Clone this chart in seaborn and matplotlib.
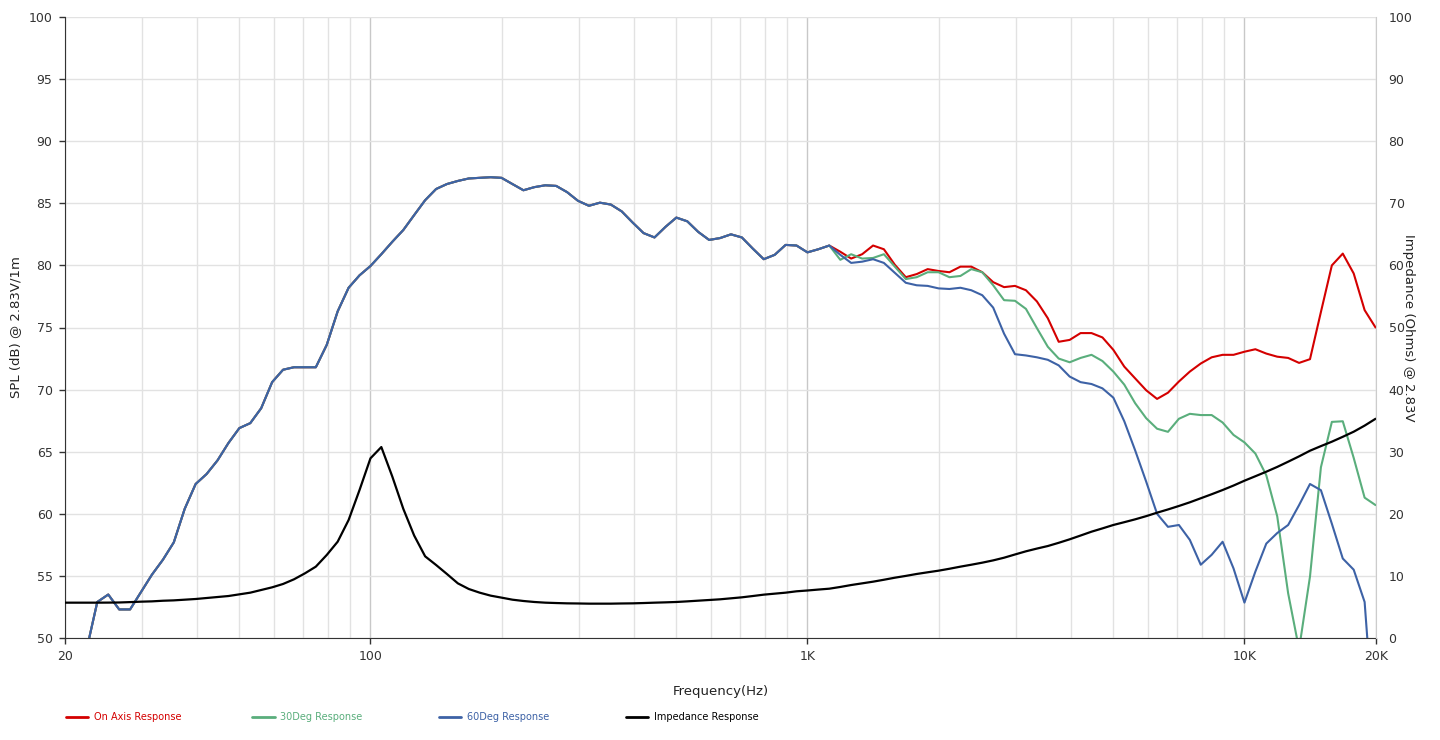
import pandas as pd
import matplotlib
matplotlib.use("Agg")
import matplotlib.pyplot as plt
from matplotlib.lines import Line2D
import seaborn as sns

# measurement grid (40 points per decade), Hz
freq_hz = [
    19.95, 21.13, 22.39, 23.71, 25.12, 26.61, 28.18, 29.85, 31.62, 33.50,
    35.48, 37.58, 39.81, 42.17, 44.67, 47.32, 50.12, 53.09, 56.23, 59.57,
    63.10, 66.83, 70.79, 74.99, 79.43, 84.14, 89.13, 94.41,
    100, 105.9, 112.2, 118.9, 125.9, 133.4, 141.3, 149.6, 158.5, 167.9,
    177.8, 188.4, 199.5, 211.3, 223.9, 237.1, 251.2, 266.1, 281.8, 298.5,
    316.2, 335.0, 354.8, 375.8, 398.1, 421.7, 446.7, 473.2, 501.2, 530.9,
    562.3, 595.7, 631.0, 668.3, 707.9, 749.9, 794.3, 841.4, 891.3, 944.1,
    1000, 1059, 1122, 1189, 1259, 1334, 1413, 1496, 1585, 1679,
    1778, 1884, 1995, 2113, 2239, 2371, 2512, 2661, 2818, 2985,
    3162, 3350, 3548, 3758, 3981, 4217, 4467, 4732, 5012, 5309,
    5623, 5957, 6310, 6683, 7079, 7499, 7943, 8414, 8913, 9441,
    10000, 10593, 11220, 11885, 12589, 13335, 14125, 14962, 15849, 16788,
    17783, 18836, 19953,
]

# 60 deg response, full range (dB)
spl_60deg = [
    46.0, 47.5, 49.0, 52.9, 53.5, 52.3, 52.3, 53.7, 55.1, 56.3,
    57.7, 60.4, 62.4, 63.2, 64.3, 65.7, 66.9, 67.3, 68.5, 70.6,
    71.6, 71.8, 71.8, 71.8, 73.6, 76.3, 78.2, 79.2,
    79.95, 80.9, 81.9, 82.85, 84.05, 85.25, 86.15, 86.55, 86.8, 87.0,
    87.05, 87.1, 87.05, 86.55, 86.05, 86.3, 86.45, 86.4, 85.9, 85.2,
    84.8, 85.05, 84.9, 84.35, 83.45, 82.6, 82.25, 83.1, 83.85, 83.55,
    82.7, 82.05, 82.2, 82.5, 82.25, 81.35, 80.5, 80.85, 81.65, 81.6,
    81.05, 81.3, 81.6, 80.85, 80.2, 80.3, 80.5, 80.2, 79.4, 78.6,
    78.4, 78.35, 78.15, 78.1, 78.2, 78.0, 77.6, 76.6, 74.5, 72.85,
    72.75, 72.6, 72.4, 71.95, 71.05, 70.6, 70.45, 70.1, 69.35, 67.45,
    65.1, 62.6, 60.0, 58.95, 59.1, 57.9, 55.9, 56.7, 57.75, 55.6,
    52.85, 55.35, 57.6, 58.45, 59.1, 60.7, 62.4, 61.9, 59.2, 56.4,
    55.5, 52.9, 41.0,
]

# on axis and 30 deg differ from 60 deg only from ~1.1K upwards
spl_on_axis_hi = [
    81.6, 81.1, 80.55, 80.9, 81.6, 81.3, 80.05, 79.05, 79.3, 79.7,
    79.55, 79.45, 79.9, 79.9, 79.45, 78.65, 78.25, 78.35, 78.0, 77.1,
    75.75, 73.85, 74.0, 74.55, 74.55, 74.2, 73.2, 71.85, 70.9, 69.95,
    69.25, 69.75, 70.65, 71.45, 72.1, 72.6, 72.8, 72.8, 73.05, 73.25,
    72.9, 72.65, 72.55, 72.15, 72.45, 76.25, 80.0, 80.95, 79.35, 76.4,
    75.0,
]
spl_30deg_hi = [
    81.6, 80.45, 80.9, 80.55, 80.6, 80.9, 79.9, 78.9, 79.05, 79.45,
    79.45, 79.05, 79.15, 79.7, 79.45, 78.4, 77.2, 77.15, 76.5, 74.95,
    73.45, 72.5, 72.2, 72.55, 72.8, 72.3, 71.45, 70.4, 68.9, 67.7,
    66.85, 66.6, 67.65, 68.05, 67.95, 67.95, 67.35, 66.35, 65.75, 64.85,
    63.1, 59.8, 53.6, 49.1, 54.95, 63.75, 67.4, 67.45, 64.5, 61.3,
    60.7,
]

impedance_ohm = [
    5.69, 5.69, 5.69, 5.69, 5.7, 5.72, 5.78, 5.85, 5.9, 6.0,
    6.06, 6.17, 6.28, 6.44, 6.6, 6.76, 7.03, 7.3, 7.73, 8.16,
    8.7, 9.45, 10.41, 11.49, 13.37, 15.51, 19.0, 23.83,
    28.93, 30.75, 26.0, 20.8, 16.5, 13.15, 11.76, 10.31, 8.8, 7.89,
    7.3, 6.82, 6.5, 6.17, 5.96, 5.8, 5.69, 5.63, 5.58, 5.56,
    5.53, 5.53, 5.53, 5.56, 5.58, 5.63, 5.69, 5.74, 5.8, 5.9,
    6.01, 6.12, 6.23, 6.39, 6.55, 6.76, 6.98, 7.14, 7.3, 7.52,
    7.65, 7.8, 7.94, 8.22, 8.53, 8.8, 9.07, 9.38, 9.71, 10.0,
    10.31, 10.58, 10.84, 11.15, 11.49, 11.8, 12.13, 12.5, 12.93, 13.45,
    13.96, 14.4, 14.81, 15.33, 15.89, 16.5, 17.12, 17.65, 18.2, 18.65,
    19.11, 19.62, 20.18, 20.7, 21.26, 21.85, 22.5, 23.15, 23.83, 24.55,
    25.33, 26.05, 26.78, 27.55, 28.39, 29.25, 30.16, 30.9, 31.61, 32.4,
    33.22, 34.2, 35.3,
]

x_ticks = [20, 100, 1000, 10000, 20000]
x_tick_labels = ["20", "100", "1K", "10K", "20K"]
minor_grid = [30, 40, 50, 60, 70, 80, 90,
              200, 300, 400, 500, 600, 700, 800, 900,
              2000, 3000, 4000, 5000, 6000, 7000, 8000, 9000]
spl_ticks = [50, 55, 60, 65, 70, 75, 80, 85, 90, 95, 100]
ohm_ticks = [0, 10, 20, 30, 40, 50, 60, 70, 80, 90, 100]

series_names = ["On Axis Response", "30Deg Response", "60Deg Response", "Impedance Response"]
series_colors = ["#d40000", "#5aae7c", "#3d62a6", "#000000"]

split = len(spl_60deg) - len(spl_on_axis_hi)
df = pd.DataFrame({
    "freq": freq_hz,
    "on_axis": spl_60deg[:split] + spl_on_axis_hi,
    "deg30": spl_60deg[:split] + spl_30deg_hi,
    "deg60": spl_60deg,
    "impedance": impedance_ohm,
})

sns.set_style("white")
plt.rcParams["font.family"] = ["DejaVu Sans"]

fig = plt.figure(figsize=(14.4, 7.4), dpi=100)
ax = fig.add_axes([65 / 1440, 1 - 638 / 740, 1311 / 1440, 621 / 740])
ax.set_xscale("log")
ax2 = ax.twinx()

sns.lineplot(data=df, x="freq", y="on_axis", ax=ax, color=series_colors[0], lw=1.5)
sns.lineplot(data=df, x="freq", y="deg30", ax=ax, color=series_colors[1], lw=1.5)
sns.lineplot(data=df, x="freq", y="deg60", ax=ax, color=series_colors[2], lw=1.5)
sns.lineplot(data=df, x="freq", y="impedance", ax=ax2, color=series_colors[3], lw=1.6)

ax.set_xlim(20, 20000)
ax.set_ylim(50, 100)
ax2.set_ylim(0, 100)

ax.set_xticks(x_ticks)
ax.set_xticklabels(x_tick_labels)
ax.set_xticks(minor_grid, minor=True)
ax.set_yticks(spl_ticks)
ax2.set_yticks(ohm_ticks)

ax.grid(which="major", axis="x", color="#c8c8c8", lw=1)
ax.grid(which="minor", axis="x", color="#e2e2e2", lw=1)
ax.grid(which="major", axis="y", color="#e2e2e2", lw=1)
ax.set_axisbelow(True)

ax.tick_params(axis="x", which="major", length=4, width=1, color="#333333",
               labelsize=9, labelcolor="#333333", pad=5, direction="out", bottom=True)
ax.tick_params(axis="x", which="minor", length=0)
ax.tick_params(axis="y", length=4, width=1, color="#333333", labelsize=9,
               labelcolor="#333333", pad=5, direction="out", left=True)
ax2.tick_params(axis="y", length=0, labelsize=9, labelcolor="#333333", pad=9)

for a in (ax, ax2):
    a.spines["top"].set_visible(False)
ax.spines["right"].set_visible(False)
ax2.spines["left"].set_visible(False)
ax2.spines["bottom"].set_visible(False)
ax2.spines["right"].set_color("#cccccc")
ax.spines["left"].set_color("#333333")
ax.spines["bottom"].set_color("#333333")

ax.set_xlabel("Frequency(Hz)", fontsize=9.5, color="#222222")
ax.xaxis.set_label_coords(0.5, -0.076)
ax.set_ylabel("SPL (dB) @ 2.83V/1m", fontsize=9.5, color="#222222")
ax.yaxis.set_label_coords(-0.033, 0.5)
ax2.set_ylabel("Impedance (Ohms) @ 2.83V", fontsize=9.5, color="#222222", rotation=-90)
ax2.yaxis.set_label_coords(1.03, 0.5)

# legend row under the chart
legend_y = 1 - 717 / 740
for i, (name, col) in enumerate(zip(series_names, series_colors)):
    x0 = (66 + 186.5 * i) / 1440
    fig.add_artist(Line2D([x0, x0 + 22 / 1440], [legend_y, legend_y], color=col, lw=2))
    fig.text(x0 + 28 / 1440, legend_y, name, color=col, fontsize=7, va="center", ha="left")

fig.savefig("out.png", dpi=100)
